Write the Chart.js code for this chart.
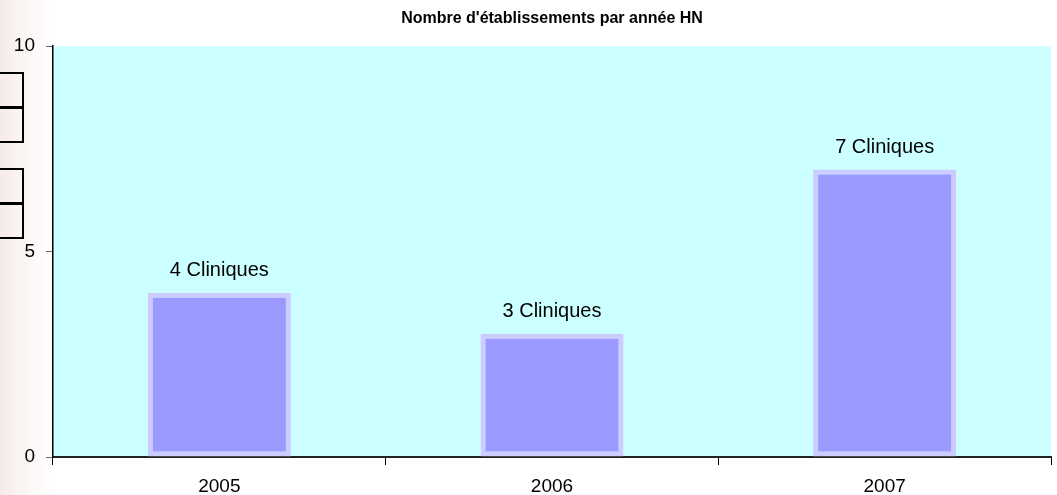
<!DOCTYPE html>
<html>
<head>
<meta charset="utf-8">
<script src="https://cdn.jsdelivr.net/npm/chart.js@4"></script>
<style>
  html, body { margin: 0; padding: 0; }
  body {
    width: 1057px; height: 495px; overflow: hidden; position: relative;
    background: linear-gradient(to right, #f5eae8 0px, #f9f2f0 15px, #fcf8f7 32px, #ffffff 55px);
  }
  #wrap { position: absolute; left: 0; top: 0; width: 1057px; height: 495px; }
  .box { position: absolute; left: -2px; width: 22px; height: 33px; border: 2px solid #000; box-sizing: content-box; }
</style>
</head>
<body>
<div class="box" style="top:72px"></div>
<div class="box" style="top:106px"></div>
<div class="box" style="top:168px"></div>
<div class="box" style="top:202px"></div>
<div id="wrap"><canvas id="myChart" width="1057" height="495"></canvas></div>
<script>
/* global Chart */

// data
let years = ["2005", "2006", "2007"];
let cliniques = [4, 3, 7];
let yTicks = [0, 5, 10];
let title = "Nombre d'établissements par année HN";

// cyan plot background
const plotBg = {
  id: "plotBg",
  beforeDraw(chart) {
    const { ctx, chartArea: a } = chart;
    ctx.save();
    ctx.fillStyle = "#ccffff";
    ctx.fillRect(a.left, a.top, a.right - a.left, a.bottom - a.top);
    ctx.restore();
  },
};

// "4 Cliniques" labels above the bars
const barLabels = {
  id: "barLabels",
  afterDatasetsDraw(chart) {
    const ctx = chart.ctx;
    const meta = chart.getDatasetMeta(0);
    ctx.save();
    ctx.font = "20px 'Liberation Sans', Arial, sans-serif";
    ctx.fillStyle = "#000";
    ctx.textAlign = "center";
    ctx.textBaseline = "middle";
    meta.data.forEach(function (bar, i) {
      ctx.fillText(cliniques[i] + " Cliniques", bar.x, bar.y - 22);
    });
    ctx.restore();
  },
};

const ctx = document.getElementById("myChart");
const myChart = new Chart(ctx, {
  type: "bar",
  data: {
    labels: years,
    datasets: [
      {
        label: "Cliniques",
        data: cliniques,
        backgroundColor: "#9999ff",
        borderColor: "#ccccff",
        borderWidth: 5,
        borderSkipped: false,
        barPercentage: 0.43,
        categoryPercentage: 1,
      },
    ],
  },
  plugins: [plotBg, barLabels],
  options: {
    responsive: false,
    animation: false,
    layout: { padding: { top: 0, right: 6, bottom: 0, left: 0 } },
    plugins: {
      legend: { display: false },
      tooltip: { enabled: false },
      title: {
        display: true,
        text: title,
        fullSize: false,
        color: "#000",
        font: { family: "'Liberation Sans', Arial, sans-serif", size: 16, weight: "bold" },
        padding: { top: 9, bottom: 18 },
      },
    },
    scales: {
      x: {
        offset: true,
        grid: {
          offset: true,
          drawOnChartArea: false,
          color: "#000",
          tickLength: 8,
          tickColor: "#000",
        },
        border: { color: "#222", width: 2 },
        ticks: {
          color: "#000",
          font: { family: "'Liberation Sans', Arial, sans-serif", size: 19 },
          padding: 10,
          maxRotation: 0,
        },
        afterFit: function (scale) {
          scale.height = 38;
        },
      },
      y: {
        min: 0,
        max: 10,
        afterBuildTicks: function (scale) {
          scale.ticks = yTicks.map(function (v) { return { value: v }; });
        },
        grid: {
          drawOnChartArea: false,
          tickLength: 7,
          tickColor: "#666",
        },
        border: { color: "#000", width: 1.5 },
        ticks: {
          color: "#000",
          font: { family: "'Liberation Sans', Arial, sans-serif", size: 19 },
          padding: 11,
        },
        afterFit: function (scale) {
          scale.width = 53;
        },
      },
    },
  },
});
</script>
</body>
</html>
